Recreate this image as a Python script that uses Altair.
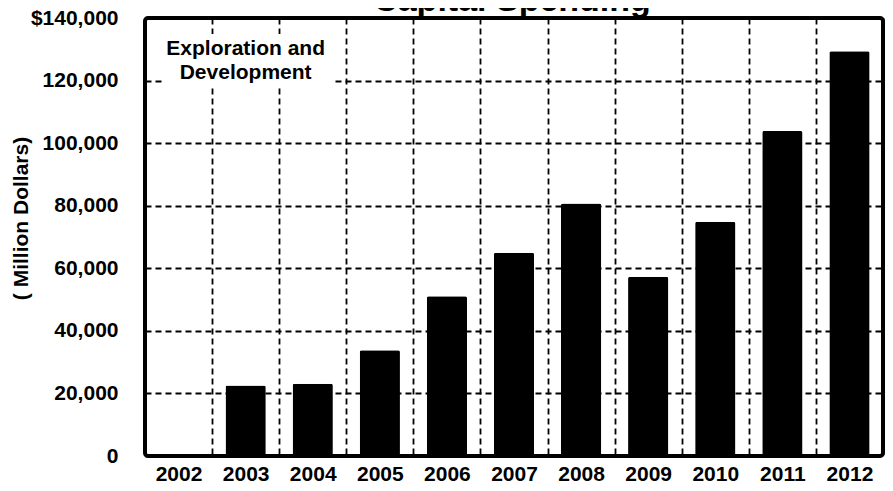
import altair as alt
import pandas as pd

# ---- data ----
years = ["2002", "2003", "2004", "2005", "2006", "2007", "2008", "2009", "2010", "2011", "2012"]
spending = [0, 22500, 23100, 33800, 51100, 65000, 80700, 57300, 74900, 103900, 129400]
y_ticks = [0, 20000, 40000, 60000, 80000, 100000, 120000, 140000]

title_text = "Capital Spending"
y_title = "( Million Dollars)"
note_lines = ["Exploration and", "Development"]
note_year = ["2003"]
note_value = [128200]
note_box_lo = [118300]
note_box_hi = [134900]

FONT = "Liberation Sans, Arial, Helvetica, sans-serif"

bars_df = pd.DataFrame({"year": years, "value": spending})
note_df = pd.DataFrame({"year": note_year, "value": note_value})
box_df = pd.DataFrame({"value": note_box_lo, "value2": note_box_hi})
title_df = pd.DataFrame({"t": [title_text]})

GRID = dict(gridColor="black", gridDash=[6, 4], gridWidth=1.8, gridOpacity=1)

x_scale = alt.Scale(paddingInner=0, paddingOuter=0)
x_enc = alt.X(
    "year:N",
    sort=years,
    scale=x_scale,
    axis=alt.Axis(
        title=None, labelAngle=0, labelFont=FONT, labelFontSize=21,
        labelFontWeight="bold", labelColor="black", labelPadding=7,
        ticks=False, domain=False, grid=True, tickBand="extent", **GRID,
    ),
)

y_axis = alt.Axis(
    values=y_ticks, title=y_title,
    labelExpr="datum.value == 140000 ? '$' + format(datum.value, ',') : format(datum.value, ',')",
    labelFont=FONT, labelFontSize=21, labelFontWeight="bold", labelColor="black",
    labelPadding=27, ticks=False, domain=False, grid=True, **GRID,
    titleFont=FONT, titleFontSize=21, titleFontWeight="bold", titleColor="black",
    titleAngle=-90, titleAlign="center", titleBaseline="middle",
    titleX=-124, titleY=200,
)
y_scale = alt.Scale(domain=[0, 140000], nice=False, zero=True)

box = alt.Chart(box_df).mark_rect(color="white").encode(
    x=alt.value(19), x2=alt.value(187),
    y=alt.Y("value:Q", scale=y_scale, axis=y_axis),
    y2="value2:Q",
)

bars = alt.Chart(bars_df).mark_bar(
    color="black", cornerRadiusTopLeft=2, cornerRadiusTopRight=2,
    width=alt.RelativeBandSize(0.6),
).encode(
    x=x_enc,
    y=alt.Y("value:Q", scale=y_scale, axis=y_axis),
)

note = alt.Chart(note_df).mark_text(
    text=note_lines, font=FONT, fontSize=21, fontWeight="bold", color="black",
    align="center", baseline="alphabetic", lineHeight=24,
).encode(
    x=alt.X("year:N", sort=years, scale=x_scale),
    y=alt.Y("value:Q", scale=y_scale, axis=y_axis),
)

# chart title, partly cut off at the top edge like the reference
title = alt.Chart(title_df).mark_text(
    font=FONT, fontSize=34, fontWeight="bold", color="black",
    align="center", baseline="alphabetic",
).encode(
    text="t:N",
    x=alt.value(367),
    y=alt.value(-7),
)

chart = alt.layer(box, bars, note, title).properties(
    width=738,
    height=438,
    autosize=alt.AutoSizeParams(type="none"),
    padding={"left": 137, "top": 10, "right": 2, "bottom": 27},
    background="white",
).configure_view(
    stroke="black", strokeWidth=4, cornerRadius=3,
)

chart.save("out.html", embed_options={"renderer": "svg", "actions": False})
